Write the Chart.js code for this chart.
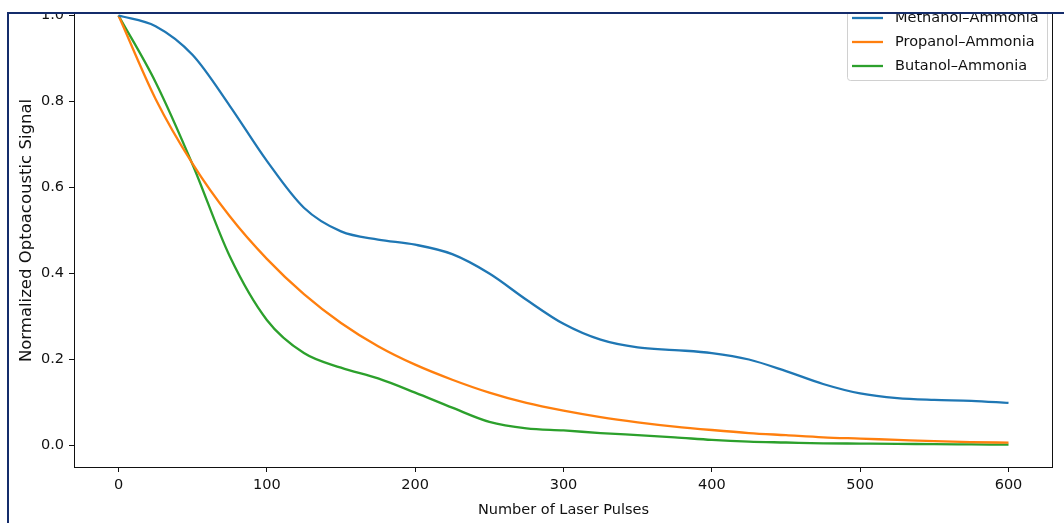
<!DOCTYPE html>
<html>
<head>
<meta charset="utf-8">
<script src="https://cdn.jsdelivr.net/npm/chart.js@4.4.1/dist/chart.umd.min.js"></script>
<style>
  html, body { margin: 0; padding: 0; background: #fff; }
  body { width: 1064px; height: 523px; position: relative; overflow: hidden; }
  #clip { position: absolute; left: 0; top: 14px; width: 1064px; height: 509px; overflow: hidden; }
  #signalChart { position: absolute; left: 0; top: -44px; }
  #frame {
    position: absolute; left: 7px; top: 12px; width: 1100px; height: 600px;
    border-top: 2px solid #142c6b; border-left: 2px solid #142c6b;
    pointer-events: none;
  }
</style>
</head>
<body>
<div id="clip"><canvas id="signalChart" width="1064" height="553"></canvas></div>
<div id="frame"></div>

<script>
// Data
const pulses = [0, 25, 50, 75, 100, 125, 150, 175, 200, 225, 250, 275, 300,
                325, 350, 375, 400, 425, 450, 475, 500, 525, 550, 575, 600];

const methanol = [1.0, 0.975, 0.908, 0.79, 0.662, 0.553, 0.498, 0.479, 0.467, 0.445, 0.40, 0.339, 0.283,
                  0.246, 0.228, 0.222, 0.215, 0.200, 0.173, 0.143, 0.121, 0.110, 0.106, 0.104, 0.099];

const propanol = [1.0, 0.806, 0.655, 0.533, 0.434, 0.352, 0.285, 0.231, 0.188, 0.153, 0.123, 0.099, 0.081,
                  0.066, 0.054, 0.044, 0.036, 0.029, 0.024, 0.019, 0.016, 0.013, 0.010, 0.008, 0.0065];

const butanol = [1.0, 0.845, 0.653, 0.44, 0.292, 0.215, 0.181, 0.156, 0.123, 0.088, 0.055, 0.040, 0.035,
                 0.029, 0.024, 0.019, 0.013, 0.009, 0.007, 0.005, 0.0045, 0.004, 0.003, 0.0025, 0.002];

const seriesNames = ['Methanol–Ammonia', 'Propanol–Ammonia', 'Butanol–Ammonia'];
const seriesColors = ['#1f77b4', '#ff7f0e', '#2ca02c'];

const xTicks = [0, 100, 200, 300, 400, 500, 600];
const xTickLabels = ['0', '100', '200', '300', '400', '500', '600'];
const yTicks = [0, 0.2, 0.4, 0.6, 0.8, 1.0];
const yTickLabels = ['0.0', '0.2', '0.4', '0.6', '0.8', '1.0'];

const FONT = '"DejaVu Sans", sans-serif';
const INK = '#111111';

function toPoints(values) {
    return pulses.map((p, i) => ({ x: p, y: values[i] }));
}

/* ==========================
   AXES FRAME + LEGEND IN PLOT
========================== */
const framePlugin = {
    id: 'frame',
    afterDatasetsDraw(chart) {
        const { ctx, chartArea: a } = chart;
        ctx.save();
        ctx.strokeStyle = INK;
        ctx.lineWidth = 1;
        ctx.strokeRect(Math.round(a.left) + 0.5, Math.round(a.top) + 0.5,
                       Math.round(a.right - a.left) - 1, Math.round(a.bottom - a.top));
        ctx.restore();
    }
};

const insideLegend = {
    id: 'insideLegend',
    afterDraw(chart) {
        const { ctx, chartArea: a } = chart;
        const w = 200, h = 79;
        const left = a.right - 6 - w;
        const top = a.top + 7;
        ctx.save();
        ctx.beginPath();
        ctx.roundRect(left + 0.5, top + 0.5, w, h, 3);
        ctx.fillStyle = 'rgba(255,255,255,0.8)';
        ctx.fill();
        ctx.strokeStyle = '#d0d0d0';
        ctx.lineWidth = 1;
        ctx.stroke();

        ctx.font = '14.5px ' + FONT;
        ctx.textBaseline = 'middle';
        chart.data.datasets.forEach((ds, i) => {
            const y = top + 17 + i * 24;
            ctx.strokeStyle = ds.borderColor;
            ctx.lineWidth = 2.3;
            ctx.beginPath();
            ctx.moveTo(left + 5, y);
            ctx.lineTo(left + 36, y);
            ctx.stroke();
            ctx.fillStyle = INK;
            ctx.fillText(ds.label, left + 48, y);
        });
        ctx.restore();
    }
};

/* ==========================
   CHART
========================== */
const ctx = document.getElementById('signalChart').getContext('2d');

new Chart(ctx, {
    type: 'line',
    data: {
        datasets: [methanol, propanol, butanol].map((vals, i) => ({
            label: seriesNames[i],
            data: toPoints(vals),
            borderColor: seriesColors[i],
            backgroundColor: seriesColors[i],
            borderWidth: 2.3,
            pointRadius: 0,
            fill: false,
            cubicInterpolationMode: 'monotone'
        }))
    },
    options: {
        responsive: false,
        animation: false,
        layout: { padding: { top: 24, right: 11, left: 0, bottom: 0 } },
        plugins: {
            legend: { display: false },
            tooltip: { enabled: false }
        },
        scales: {
            x: {
                type: 'linear',
                min: -30,
                max: 630,
                afterFit(scale) { scale.height = 56; },
                afterBuildTicks(scale) { scale.ticks = xTicks.map(v => ({ value: v })); },
                grid: { drawOnChartArea: false, drawTicks: true, tickLength: 5, color: INK },
                border: { display: false },
                ticks: {
                    padding: 5,
                    color: INK,
                    font: { family: FONT, size: 14.5 },
                    maxRotation: 0,
                    callback: (v) => xTickLabels[xTicks.indexOf(v)]
                },
                title: {
                    display: true,
                    text: 'Number of Laser Pulses',
                    color: INK,
                    font: { family: FONT, size: 14.5 },
                    padding: { top: 0, bottom: 4 }
                }
            },
            y: {
                min: -0.05,
                max: 1.05,
                afterFit(scale) { scale.width = 74; },
                afterBuildTicks(scale) { scale.ticks = yTicks.map(v => ({ value: v })); },
                grid: { drawOnChartArea: false, drawTicks: true, tickLength: 5, color: INK },
                border: { display: false },
                ticks: {
                    padding: 5,
                    color: INK,
                    font: { family: FONT, size: 14.5 },
                    callback: (v) => yTickLabels[yTicks.indexOf(v)]
                },
                title: {
                    display: true,
                    text: 'Normalized Optoacoustic Signal',
                    color: INK,
                    font: { family: FONT, size: 16.5 },
                    padding: { top: 17, bottom: 0 }
                }
            }
        }
    },
    plugins: [framePlugin, insideLegend]
});
</script>
</body>
</html>
